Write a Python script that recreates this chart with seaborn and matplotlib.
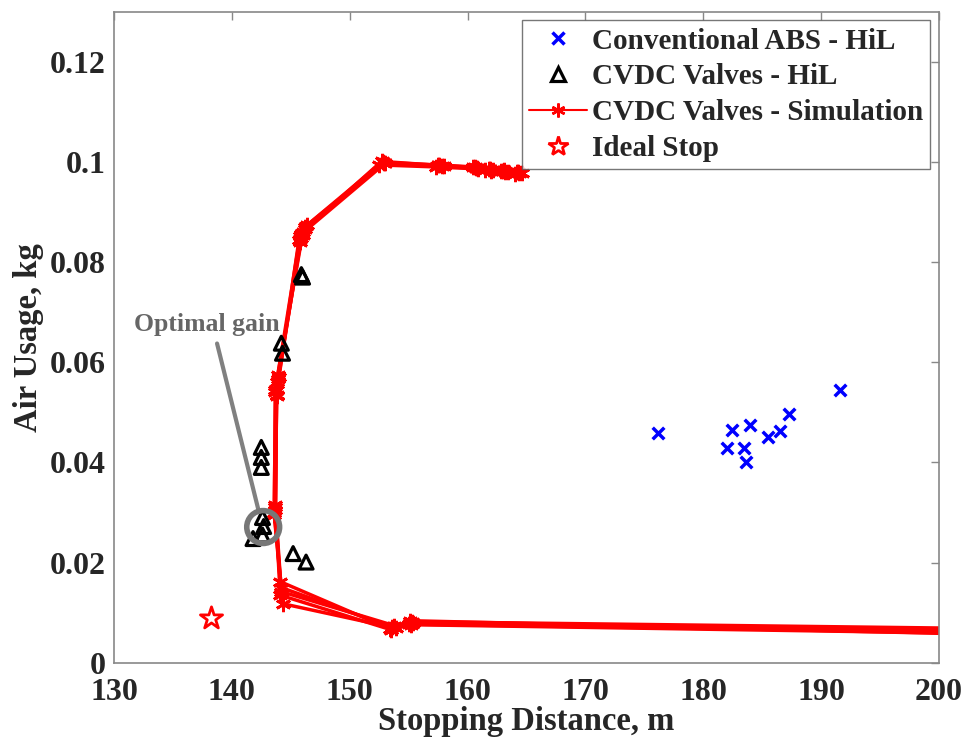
import pandas as pd
import matplotlib
matplotlib.use("Agg")
import matplotlib.pyplot as plt
import seaborn as sns
from matplotlib.lines import Line2D

# conventional ABS, hardware in the loop
abs_dist = [176.2, 182.4, 184.0, 182.0, 183.5, 183.6, 185.5, 186.5, 187.3, 191.6]
abs_air = [0.0459, 0.0464, 0.0474, 0.0429, 0.0429, 0.0401, 0.0450, 0.0463, 0.0497, 0.0544]

# CVDC valves, hardware in the loop
hil_dist = [145.9, 146.0, 144.2, 144.3, 142.5, 142.5, 142.5, 142.6, 142.7, 142.6, 141.8, 145.2, 146.3]
hil_air = [0.0775, 0.0770, 0.0638, 0.0618, 0.0430, 0.0410, 0.0390, 0.0290, 0.0272, 0.0255, 0.0248, 0.0218, 0.0201]

# CVDC valves, simulation (gain sweep, several runs)
sim_dist = [
    [164.6, 163.4, 162.2, 160.8, 158.0, 152.9, 146.2, 145.9, 143.9, 143.8, 143.7, 144.1, 153.4, 155.1, 205.0],
    [164.3, 163.0, 161.8, 160.6, 157.6, 152.7, 146.0, 145.8, 143.8, 143.7, 143.6, 144.2, 153.6, 155.3, 205.0],
    [164.0, 162.8, 161.5, 160.9, 157.3, 152.5, 146.4, 145.7, 144.0, 143.8, 143.7, 144.2, 153.8, 155.0, 205.0],
    [164.4, 163.2, 162.0, 160.7, 157.8, 153.0, 145.9, 146.0, 143.9, 143.7, 143.6, 144.3, 153.9, 155.4, 205.0],
    [164.2, 163.1, 161.9, 160.5, 157.5, 152.8, 146.2, 145.8, 143.8, 143.8, 143.7, 144.1, 153.5, 155.2, 205.0],
]
sim_air = [
    [0.0977, 0.0980, 0.0983, 0.0987, 0.0991, 0.0998, 0.0870, 0.0848, 0.0566, 0.0532, 0.0305, 0.0162, 0.0068, 0.0084, 0.0056],
    [0.0979, 0.0982, 0.0985, 0.0989, 0.0993, 0.1001, 0.0860, 0.0852, 0.0560, 0.0540, 0.0300, 0.0150, 0.0071, 0.0082, 0.0068],
    [0.0975, 0.0981, 0.0984, 0.0986, 0.0990, 0.0994, 0.0874, 0.0845, 0.0570, 0.0535, 0.0310, 0.0142, 0.0074, 0.0077, 0.0060],
    [0.0978, 0.0979, 0.0982, 0.0988, 0.0992, 0.0997, 0.0856, 0.0855, 0.0575, 0.0545, 0.0295, 0.0118, 0.0069, 0.0080, 0.0064],
    [0.0980, 0.0983, 0.0986, 0.0990, 0.0994, 0.0999, 0.0866, 0.0840, 0.0562, 0.0528, 0.0315, 0.0135, 0.0066, 0.0076, 0.0058],
]

# ideal stop
ideal_dist = [138.2]
ideal_air = [0.0090]

# optimal gain point
opt_dist = 142.66
opt_air = 0.0271

xticks = [130, 140, 150, 160, 170, 180, 190, 200]
yticks = [0, 0.02, 0.04, 0.06, 0.08, 0.1, 0.12]
ytick_labels = ["0", "0.02", "0.04", "0.06", "0.08", "0.1", "0.12"]

sns.set_theme(style="white")
plt.rcParams['font.family'] = ['Liberation Serif', 'DejaVu Serif']
plt.rcParams['font.weight'] = 'bold'

fig = plt.figure(figsize=(9.7, 7.43), dpi=100)
ax = fig.add_axes([0.1175, 0.108, 0.8505, 0.8763])

asterisk = (6, 2, 0)
for i in range(len(sim_dist)):
    sns.lineplot(x=sim_dist[i], y=sim_air[i], sort=False, ax=ax, color='red',
                 linewidth=2.5, marker=asterisk, markersize=11, markeredgewidth=2,
                 markeredgecolor='red', zorder=2)

sns.scatterplot(x=abs_dist, y=abs_air, ax=ax, marker='x', color='blue',
                s=70, linewidth=2.5, zorder=3)
sns.scatterplot(x=hil_dist, y=hil_air, ax=ax, marker='^', facecolor='none',
                edgecolor='black', s=100, linewidth=2.3, zorder=3)
sns.scatterplot(x=ideal_dist, y=ideal_air, ax=ax, marker='*', facecolor='white',
                edgecolor='red', s=280, linewidth=2, zorder=3)

# optimal gain marker
ax.scatter([opt_dist], [opt_air], s=560, facecolor='none', edgecolor='#777777',
           linewidth=4, zorder=4)
ax.annotate('Optimal gain', xy=(142.3, 0.0301), xytext=(137.85, 0.0675),
            ha='center', va='center', fontsize=18.5, fontweight='bold', color='#666666',
            arrowprops=dict(arrowstyle='-', color='#808080', lw=3,
                            shrinkA=3, shrinkB=0, relpos=(0.56, 0.0)))

ax.set_xlim(130, 200)
ax.set_ylim(0, 0.13)
ax.set_xticks(xticks)
ax.set_yticks(yticks)
ax.set_yticklabels(ytick_labels)
ax.tick_params(axis='both', direction='in', length=6, width=1, color='#888888',
               labelsize=23, top=True, right=True, pad=6)
ax.tick_params(axis='x', pad=11)
for lab in ax.get_xticklabels() + ax.get_yticklabels():
    lab.set_fontweight('bold')
for sp in ax.spines.values():
    sp.set_color('#888888')
    sp.set_linewidth(1.2)

ax.set_xlabel('Stopping Distance, m', fontsize=23.5, fontweight='bold', labelpad=-1)
ax.set_ylabel('Air Usage, kg', fontsize=23.5, fontweight='bold', labelpad=4)

handles = [
    Line2D([], [], linestyle='none', marker='x', color='blue', markersize=9, markeredgewidth=2.5),
    Line2D([], [], linestyle='none', marker='^', markerfacecolor='none', markeredgecolor='black',
           markersize=10, markeredgewidth=2.3),
    Line2D([], [], color='red', linewidth=1.5, marker=asterisk, markersize=10, markeredgewidth=1.8),
    Line2D([], [], linestyle='none', marker='*', markerfacecolor='white', markeredgecolor='red',
           markersize=15, markeredgewidth=2),
]
labels = ['Conventional ABS - HiL', 'CVDC Valves - HiL', 'CVDC Valves - Simulation', 'Ideal Stop']
leg = ax.legend(handles, labels, loc='upper right', frameon=True, fancybox=False,
                borderaxespad=0.3, labelspacing=0.3, handlelength=2.0, handletextpad=0.15,
                borderpad=0.25, prop={'weight': 'bold', 'size': 21})
leg.get_frame().set_edgecolor('#555555')
leg.get_frame().set_linewidth(1)

fig.savefig('out.png', dpi=100)
